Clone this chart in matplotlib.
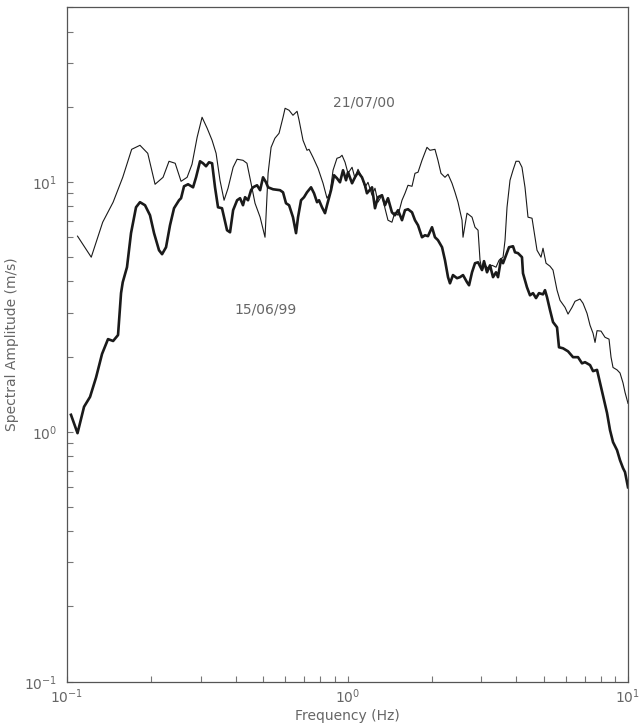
import matplotlib
matplotlib.use("Agg")
import matplotlib.pyplot as plt
from matplotlib.ticker import LogLocator, NullFormatter
import numpy as np

# 21/07/00 record (thin line)
freq_0700 = [0.109, 0.122, 0.134, 0.146, 0.158, 0.170, 0.182, 0.194, 0.206, 0.220,
             0.231, 0.243, 0.255, 0.268, 0.279, 0.291, 0.303, 0.316, 0.329, 0.340,
             0.351, 0.363, 0.375, 0.391, 0.404, 0.424, 0.438, 0.453, 0.468, 0.488,
             0.508, 0.521, 0.534, 0.551, 0.570, 0.589, 0.599, 0.619, 0.639, 0.661,
             0.672, 0.694, 0.717, 0.729, 0.753, 0.785, 0.818, 0.845, 0.866, 0.888,
             0.917, 0.940, 0.956, 0.980, 1.004, 1.038, 1.063, 1.090, 1.126, 1.154,
             1.183, 1.223, 1.253, 1.284, 1.327, 1.360, 1.394, 1.440, 1.476, 1.514,
             1.564, 1.603, 1.643, 1.698, 1.740, 1.784, 1.843, 1.889, 1.920, 1.968,
             2.050, 2.101, 2.154, 2.226, 2.282, 2.358, 2.417, 2.477, 2.560, 2.581,
             2.667, 2.779, 2.848, 2.920, 2.968, 3.017, 3.092, 3.169, 3.275, 3.384,
             3.469, 3.585, 3.644, 3.704, 3.796, 3.890, 3.987, 4.086, 4.188, 4.293,
             4.400, 4.548, 4.661, 4.738, 4.896, 4.977, 5.102, 5.272, 5.403, 5.584,
             5.723, 5.962, 6.112, 6.316, 6.474, 6.744, 6.913, 7.143, 7.322, 7.505,
             7.629, 7.755, 8.014, 8.279, 8.557, 8.699, 8.842, 9.138, 9.365, 9.598,
             9.757, 10.0]
amp_0700 = [6.07, 5.00, 6.90, 8.30, 10.44, 13.51, 14.02, 13.02, 9.79, 10.44,
            12.10, 11.88, 10.06, 10.44, 11.77, 15.10, 18.15, 16.40, 14.68, 13.02,
            10.16, 8.45, 9.44, 11.45, 12.33, 12.21, 11.88, 9.88, 8.22, 7.23,
            6.01, 10.83, 13.76, 14.96, 15.66, 18.15, 19.72, 19.36, 18.49, 19.18,
            17.65, 14.68, 13.39, 13.51, 12.56, 11.34, 9.88, 8.61, 9.01, 11.14,
            12.44, 12.56, 12.79, 11.99, 10.83, 11.45, 10.35, 11.24, 10.44, 9.52,
            9.97, 8.85, 9.44, 8.30, 8.85, 7.85, 7.03, 6.90, 7.56, 7.36,
            8.45, 9.01, 9.70, 9.61, 10.83, 10.94, 12.21, 13.14, 13.76, 13.39,
            13.51, 12.21, 10.83, 10.44, 10.74, 9.88, 9.09, 8.30, 7.03, 6.01,
            7.50, 7.23, 6.59, 6.41, 4.86, 4.44, 4.64, 4.52, 4.64, 4.56,
            4.86, 5.00, 5.85, 7.92, 10.16, 11.14, 12.10, 12.10, 11.45, 9.52,
            7.23, 7.16, 6.01, 5.33, 5.00, 5.43, 4.73, 4.60, 4.44, 3.69,
            3.36, 3.15, 2.96, 3.15, 3.33, 3.40, 3.27, 2.98, 2.67, 2.48,
            2.28, 2.54, 2.53, 2.39, 2.35, 1.99, 1.81, 1.77, 1.72, 1.57,
            1.44, 1.30]

# 15/06/99 record (thick line)
freq_9906 = [0.1033, 0.109, 0.115, 0.1208, 0.1269, 0.1333, 0.140, 0.146, 0.152, 0.1558,
             0.158, 0.1636, 0.1691, 0.1762, 0.182, 0.1897, 0.1976, 0.2043, 0.2128, 0.2182,
             0.2254, 0.2329, 0.2407, 0.2508, 0.255, 0.2613, 0.2701, 0.2814, 0.2884, 0.298,
             0.3054, 0.313, 0.3208, 0.329, 0.337, 0.3454, 0.3569, 0.363, 0.3719, 0.3812,
             0.391, 0.404, 0.4139, 0.424, 0.4312, 0.4419, 0.453, 0.4604, 0.4758, 0.488,
             0.4998, 0.5122, 0.521, 0.5425, 0.5745, 0.589, 0.6035, 0.619, 0.639, 0.6553,
             0.6662, 0.6828, 0.6998, 0.717, 0.7413, 0.7597, 0.7786, 0.7914, 0.8111, 0.8313,
             0.845, 0.8735, 0.8953, 0.917, 0.940, 0.9638, 0.9878, 1.004, 1.038, 1.063,
             1.090, 1.126, 1.154, 1.173, 1.223, 1.253, 1.284, 1.327, 1.360, 1.394,
             1.440, 1.476, 1.514, 1.564, 1.603, 1.643, 1.698, 1.740, 1.784, 1.843,
             1.889, 1.936, 2.001, 2.050, 2.101, 2.173, 2.226, 2.282, 2.319, 2.377,
             2.457, 2.518, 2.581, 2.667, 2.712, 2.779, 2.848, 2.920, 3.017, 3.066,
             3.143, 3.221, 3.302, 3.384, 3.440, 3.526, 3.585, 3.674, 3.765, 3.890,
             3.955, 4.053, 4.188, 4.223, 4.363, 4.473, 4.585, 4.699, 4.816, 4.977,
             5.059, 5.143, 5.272, 5.403, 5.584, 5.675, 5.864, 6.112, 6.368, 6.634,
             6.855, 7.027, 7.322, 7.505, 7.755, 7.949, 8.146, 8.418, 8.627, 8.842,
             9.138, 9.365, 9.598, 9.757, 10.0]
amp_9906 = [1.17, 0.988, 1.26, 1.38, 1.65, 2.05, 2.35, 2.31, 2.44, 3.59,
            3.97, 4.56, 6.24, 7.92, 8.30, 8.07, 7.36, 6.24, 5.33, 5.14,
            5.48, 6.71, 7.85, 8.45, 8.61, 9.61, 9.79, 9.52, 10.44, 12.10,
            11.88, 11.56, 11.99, 11.88, 9.52, 7.92, 7.85, 7.23, 6.41, 6.29,
            7.71, 8.45, 8.61, 8.07, 8.69, 8.45, 9.27, 9.52, 9.70, 9.27,
            10.44, 9.97, 9.52, 9.35, 9.27, 9.09, 8.22, 8.07, 7.23, 6.24,
            7.23, 8.45, 8.69, 9.09, 9.52, 9.01, 8.30, 8.45, 7.92, 7.50,
            8.07, 9.27, 10.64, 10.35, 9.97, 11.14, 10.16, 10.94, 9.88, 10.44,
            10.94, 10.44, 9.70, 9.01, 9.52, 7.85, 8.69, 8.85, 8.07, 8.61,
            7.56, 7.36, 7.71, 7.03, 7.71, 7.78, 7.56, 7.03, 6.71, 6.01,
            6.12, 6.07, 6.59, 6.01, 5.85, 5.48, 4.86, 4.16, 3.93, 4.24,
            4.12, 4.16, 4.24, 3.97, 3.86, 4.35, 4.73, 4.77, 4.44, 4.82,
            4.35, 4.64, 4.16, 4.35, 4.16, 4.91, 4.73, 5.09, 5.48, 5.53,
            5.23, 5.19, 5.00, 4.31, 3.79, 3.52, 3.59, 3.43, 3.59, 3.55,
            3.69, 3.46, 3.07, 2.75, 2.62, 2.18, 2.16, 2.10, 1.99, 1.99,
            1.88, 1.90, 1.85, 1.75, 1.77, 1.57, 1.40, 1.19, 1.016, 0.91,
            0.845, 0.77, 0.716, 0.69, 0.60]

label_0700 = "21/07/00"
label_9906 = "15/06/99"

axis_col = "#555555"
text_col = "#666666"
line_col = "#1a1a1a"

fig = plt.figure(figsize=(6.42, 7.24), dpi=100)
ax = fig.add_axes([0.1044, 0.0584, 0.8738, 0.9315])

ax.plot(freq_0700, amp_0700, color=line_col, lw=0.8)
ax.plot(freq_9906, amp_9906, color=line_col, lw=1.9)

ax.set_xscale("log")
ax.set_yscale("log")
ax.set_xlim(0.1, 10)
ax.set_ylim(0.1, 50)

ax.xaxis.set_major_locator(LogLocator(base=10, numticks=10))
ax.yaxis.set_major_locator(LogLocator(base=10, numticks=10))
ax.xaxis.set_minor_locator(LogLocator(base=10, subs=np.arange(2, 10), numticks=20))
ax.yaxis.set_minor_locator(LogLocator(base=10, subs=np.arange(2, 10), numticks=20))
ax.xaxis.set_minor_formatter(NullFormatter())
ax.yaxis.set_minor_formatter(NullFormatter())

ax.tick_params(which="both", direction="in", length=4.3, width=0.8,
               color="#777777", top=False, right=False,
               labelsize=10, labelcolor=text_col)
ax.tick_params(axis="y", which="major", pad=7)
ax.tick_params(axis="x", which="major", pad=4)

for s in ax.spines.values():
    s.set_color(axis_col)
    s.set_linewidth(0.9)

ax.set_xlabel("Frequency (Hz)", fontsize=10, color=text_col, labelpad=2)
ax.set_ylabel("Spectral Amplitude (m/s)", fontsize=10, color=text_col, labelpad=4)

ax.text(1.145, 20.8, label_0700, fontsize=10, color=text_col, ha="center", va="center")
ax.text(0.512, 3.10, label_9906, fontsize=10, color=text_col, ha="center", va="center")

fig.savefig("out.png", dpi=100)
